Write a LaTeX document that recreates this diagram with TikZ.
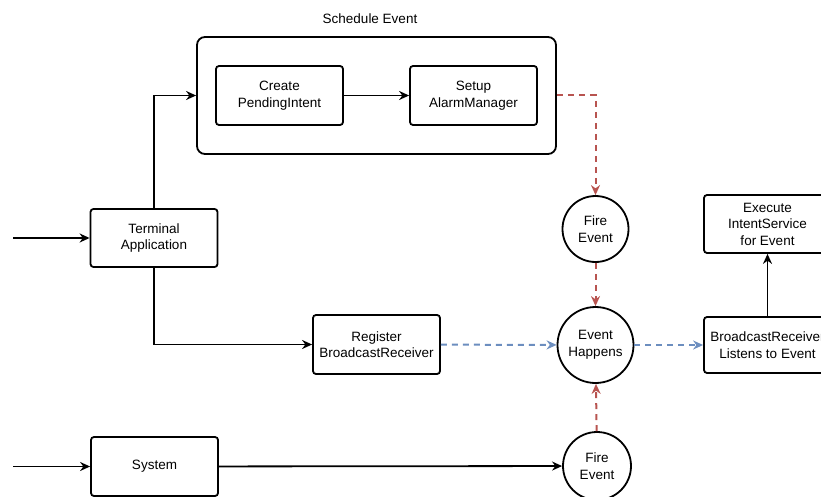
\documentclass[tikz,border=0pt]{standalone}
\usepackage{fontspec}
\setmainfont{Liberation Sans}
\usetikzlibrary{arrows.meta}
\definecolor{redline}{HTML}{B85450}
\definecolor{blueline}{HTML}{6C8EBF}
\begin{document}
\begin{tikzpicture}[x=1pt,y=-1pt,
  font=\fontsize{13.5}{16.5}\selectfont,
  box/.style={draw, line width=1.8pt, rounded corners=3pt, minimum width=127pt, minimum height=59pt, align=center, inner sep=0pt, fill=white},
  circ/.style={draw, circle, line width=1.8pt, minimum size=68pt, align=center, inner sep=0pt, fill=white},
  arr/.style={line width=1.8pt, -{Stealth[length=10pt,width=9pt]}},
  reddash/.style={draw=redline, line width=2pt, dash pattern=on 6pt off 5pt, -{Stealth[length=10pt,width=9pt]}},
  bluedash/.style={draw=blueline, line width=2pt, dash pattern=on 6pt off 5pt, -{Stealth[length=10pt,width=9pt]}}]
\useasboundingbox (0,0) rectangle (821,497);
\node[draw, line width=1.8pt, rounded corners=8pt, minimum width=359pt, minimum height=117pt, inner sep=0pt] (sched) at (376.5,95.5) {};
\node (schedlbl) at (370,19) {Schedule Event};
\node[box] (create) at (279.5,95.5) {Create\\PendingIntent};
\node[box] (setup) at (473.5,95.5) {Setup\\AlarmManager};
\node[box, minimum height=58pt] (term) at (154,238) {Terminal\\Application};
\node[box] (reg) at (376.5,344.5) {Register\\BroadcastReceiver};
\node[box] (sys) at (154.5,466.5) {System};
\node[circ, minimum size=66pt] (fire1) at (595.5,229) {Fire\\Event};
\node[circ, minimum size=76pt] (happen) at (595.5,345) {Event\\Happens};
\node[circ] (fire2) at (597,466) {Fire\\Event};
\node[box, minimum height=56pt] (listen) at (767.5,345) {BroadcastReceiver\\Listens to Event};
\node[box, minimum height=58pt] (exec) at (767.5,224) {Execute\\IntentService\\for Event};
\coordinate (in1) at (13,238);
\coordinate (in2) at (13,466.5);
\draw[arr] (in1) -- (term);
\draw[arr] (term.north) |- (sched.west);
\draw[arr] (term.south) |- (reg.west);
\draw[arr] (create) -- (setup);
\draw[reddash] (sched.east) -| (fire1.north);
\draw[reddash] (fire1) -- (happen);
\draw[reddash] (fire2) -- (happen);
\draw[bluedash] (reg) -- (happen);
\draw[bluedash] (happen) -- (listen);
\draw[arr] (in2) -- (sys);
\draw[arr] (sys) -- (fire2);
\draw[arr] (listen) -- (exec);
\end{tikzpicture}
\end{document}
